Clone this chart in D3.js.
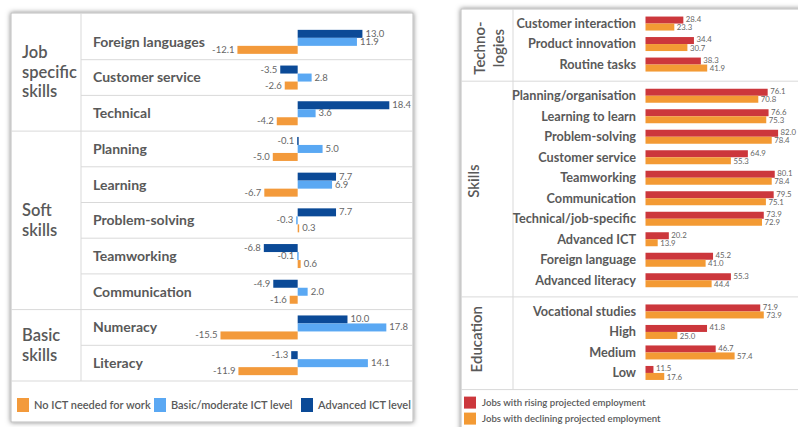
<!DOCTYPE html>
<html>
<head>
<meta charset="utf-8">
<script src="https://cdn.jsdelivr.net/npm/d3@7"></script>
<style>
  body { margin: 0; background: #fff; }
  svg text { font-family: Lato, "Open Sans", sans-serif; }
</style>
</head>
<body>
<svg id="chart" width="798" height="427"></svg>
<script>
// ---- Left panel: change in skill demand by ICT level (percentage points) ----
const ictCategories = ["Foreign languages", "Customer service", "Technical", "Planning", "Learning",
  "Problem-solving", "Teamworking", "Communication", "Numeracy", "Literacy"];
const ictGroupLabels = [["Job", "specific", "skills"], ["Soft", "skills"], ["Basic", "skills"]];
const ictGroupSizes = [3, 5, 2];
const advancedICT = [13.0, -3.5, 18.4, -0.1, 7.7, 7.7, -6.8, -4.9, 10.0, -1.3];
const basicICT = [11.9, 2.8, 3.6, 5.0, 6.9, -0.3, -0.1, 2.0, 17.8, 14.1];
const noICT = [-12.1, -2.6, -4.2, -5.0, -6.7, 0.3, 0.6, -1.6, -15.5, -11.9];
const ictSeriesNames = ["Advanced ICT level", "Basic/moderate ICT level", "No ICT needed for work"];

// ---- Right panel: share of jobs with rising / declining projected employment (%) ----
const trendCategories = ["Customer interaction", "Product innovation", "Routine tasks",
  "Planning/organisation", "Learning to learn", "Problem-solving", "Customer service", "Teamworking",
  "Communication", "Technical/job-specific", "Advanced ICT", "Foreign language", "Advanced literacy",
  "Vocational studies", "High", "Medium", "Low"];
const trendGroupLabels = [["Techno-", "logies"], ["Skills"], ["Education"]];
const trendGroupSizes = [3, 10, 4];
const risingJobs = [28.4, 34.4, 38.3, 76.1, 76.6, 82.0, 64.9, 80.1, 79.5, 73.9, 20.2, 45.2, 55.3, 71.9, 41.8, 46.7, 11.5];
const decliningJobs = [23.3, 30.7, 41.9, 70.8, 75.3, 78.4, 55.3, 78.4, 75.1, 72.9, 13.9, 41.0, 44.4, 73.9, 25.0, 57.4, 17.6];
const trendSeriesNames = ["Jobs with rising projected employment", "Jobs with declining projected employment"];

const TEXT = "#595959";
const VALUE_TEXT = "#666666";
const GRID = "#d9d9d9";
const BORDER = "#bdbdbd";
const ictColors = ["#0b4a97", "#5aa8f3", "#f39a3b"];
const trendColors = ["#cc373c", "#f39a34"];
const fmt = v => v.toFixed(1);

const svg = d3.select("#chart");
const defs = svg.append("defs");
const shadow = defs.append("filter").attr("id", "shadow")
  .attr("x", "-10%").attr("y", "-10%").attr("width", "120%").attr("height", "120%");
shadow.append("feDropShadow").attr("dx", 0).attr("dy", 0).attr("stdDeviation", 2.8)
  .attr("flood-color", "#000").attr("flood-opacity", 0.5);

// ================= Left panel =================
const L = { x0: 11, x1: 413, y0: 13, y1: 422, groupCol: 81, rowsTop: 24, rowsBottom: 381, labelX: 93 };
const left = svg.append("g");
left.append("rect").attr("x", L.x0).attr("y", L.y0).attr("width", L.x1 - L.x0).attr("height", L.y1 - L.y0)
  .attr("fill", "#fff").attr("stroke", BORDER).attr("filter", "url(#shadow)");

const yL = d3.scaleBand().domain(ictCategories).range([L.rowsTop, L.rowsBottom]);
const xL = d3.scaleLinear().domain([-16, 19]).range([218, 392.3]);
const innerL = d3.scaleBand().domain(d3.range(3)).range([-12, 12]);
const ictSeries = [advancedICT, basicICT, noICT];

// index of the first row in each group
const ictGroupStarts = d3.cumsum([0, ...ictGroupSizes]).slice(0, -1);

// row separators (group boundaries run across the group column too)
ictCategories.forEach((c, i) => {
  if (i === 0) return;
  const isGroupStart = ictGroupStarts.includes(i);
  left.append("line")
    .attr("x1", isGroupStart ? L.x0 : L.groupCol).attr("x2", L.x1)
    .attr("y1", yL(c)).attr("y2", yL(c))
    .attr("stroke", GRID).attr("stroke-width", 1);
});
left.append("line").attr("x1", L.x0).attr("x2", L.x1).attr("y1", L.rowsBottom).attr("y2", L.rowsBottom)
  .attr("stroke", GRID);
left.append("line").attr("x1", L.groupCol).attr("x2", L.groupCol).attr("y1", L.y0).attr("y2", L.rowsBottom)
  .attr("stroke", GRID);

// group labels
ictGroupLabels.forEach((lines, gi) => {
  const first = ictCategories[ictGroupStarts[gi]];
  const last = ictCategories[ictGroupStarts[gi] + ictGroupSizes[gi] - 1];
  const top = gi === 0 ? L.y0 : yL(first);
  const bottom = yL(last) + yL.bandwidth();
  const cy = (top + bottom) / 2;
  const lh = 19.5;
  const t = left.append("text").attr("x", 22).attr("fill", TEXT)
    .attr("font-size", 16.5).attr("font-weight", 600);
  lines.forEach((ln, k) => {
    t.append("tspan").attr("x", 22)
      .attr("y", cy + (k - (lines.length - 1) / 2) * lh)
      .attr("dy", "0.35em").text(ln);
  });
});

// category labels
left.selectAll("text.cat").data(ictCategories).join("text").attr("class", "cat")
  .attr("x", L.labelX).attr("y", d => yL(d) + yL.bandwidth() / 2).attr("dy", "0.35em")
  .attr("fill", TEXT).attr("font-size", 14).attr("font-weight", 700)
  .text(d => d);

// bars and value labels
ictSeries.forEach((vals, si) => {
  const rows = vals.map((v, i) => ({ v, c: ictCategories[i] }));
  const g = left.append("g");
  g.selectAll("rect").data(rows).join("rect")
    .attr("x", d => d.v < 0 ? xL(d.v) : xL(0))
    .attr("width", d => Math.max(1.5, Math.abs(xL(d.v) - xL(0))))
    .attr("y", d => yL(d.c) + yL.bandwidth() / 2 + innerL(si))
    .attr("height", innerL.bandwidth())
    .attr("fill", ictColors[si]);
  g.selectAll("text").data(rows).join("text")
    .attr("x", d => d.v < 0 ? xL(d.v) - 3 : xL(0) + Math.max(1.5, xL(d.v) - xL(0)) + 3)
    .attr("text-anchor", d => d.v < 0 ? "end" : "start")
    .attr("y", d => yL(d.c) + yL.bandwidth() / 2 + innerL(si) + innerL.bandwidth() / 2)
    .attr("dy", "0.32em")
    .attr("font-family", "'Liberation Serif', serif").attr("font-size", 9.5)
    .attr("fill", VALUE_TEXT)
    .text(d => fmt(d.v));
});

// legend (order: no ICT, basic, advanced)
const legL = [
  { name: ictSeriesNames[2], color: ictColors[2], x: 17 },
  { name: ictSeriesNames[1], color: ictColors[1], x: 154 },
  { name: ictSeriesNames[0], color: ictColors[0], x: 301 }
];
legL.forEach(d => {
  left.append("rect").attr("x", d.x).attr("y", 398).attr("width", 12).attr("height", 14).attr("fill", d.color);
  left.append("text").attr("x", d.x + 17).attr("y", 405).attr("dy", "0.35em")
    .attr("fill", TEXT).attr("font-size", 11).attr("font-weight", 600).text(d.name);
});

// ================= Right panel =================
const R = { x0: 461, x1: 806, y0: 9, y1: 440, groupCol: 513, labelX: 636, step: 20.5, padTop: 4.3, padBottom: 6.4 };
const right = svg.append("g");
right.append("rect").attr("x", R.x0).attr("y", R.y0).attr("width", R.x1 - R.x0).attr("height", R.y1 - R.y0)
  .attr("fill", "#fff").attr("stroke", BORDER).attr("filter", "url(#shadow)");

const xR = d3.scaleLinear().domain([7, 82]).range([645.5, 778.1]);
const trendGroupStarts = d3.cumsum([0, ...trendGroupSizes]).slice(0, -1);

// vertical extent and band scale of each group
let cursor = R.y0;
const trendGroups = trendGroupSizes.map((n, gi) => {
  const top = cursor;
  const bottom = top + R.padTop + R.padBottom + n * R.step;
  cursor = bottom;
  const cats = trendCategories.slice(trendGroupStarts[gi], trendGroupStarts[gi] + n);
  const band = d3.scaleBand().domain(cats).range([top + R.padTop, bottom - R.padBottom]);
  return { top, bottom, cats, band, labels: trendGroupLabels[gi] };
});
const rowCenter = {};
trendGroups.forEach(g => g.cats.forEach(c => { rowCenter[c] = g.band(c) + g.band.bandwidth() / 2; }));

// separators and group column
trendGroups.forEach(g => {
  right.append("line").attr("x1", R.x0).attr("x2", R.x1).attr("y1", g.bottom).attr("y2", g.bottom)
    .attr("stroke", GRID);
});
right.append("line").attr("x1", R.groupCol).attr("x2", R.groupCol)
  .attr("y1", R.y0).attr("y2", trendGroups[trendGroups.length - 1].bottom).attr("stroke", GRID);

// rotated group labels
const groupLabelX = [480, 474, 477];
const groupLabelShift = [3, -8, -4];
trendGroups.forEach((g, gi) => {
  const cy = (g.top + g.bottom) / 2 + groupLabelShift[gi];
  const t = right.append("text")
    .attr("transform", `translate(${groupLabelX[gi]},${cy}) rotate(-90)`)
    .attr("text-anchor", "middle").attr("fill", TEXT)
    .attr("font-size", 15).attr("font-weight", 600);
  g.labels.forEach((ln, k) => {
    t.append("tspan").attr("x", 0).attr("y", k * 19).attr("dy", "0.35em").text(ln);
  });
});

// category labels
right.selectAll("text.cat").data(trendCategories).join("text").attr("class", "cat")
  .attr("x", R.labelX).attr("y", d => rowCenter[d]).attr("dy", "0.35em")
  .attr("text-anchor", "end").attr("fill", TEXT)
  .attr("font-size", 12.7).attr("font-weight", 700).text(d => d);

// bars and values
const innerR = d3.scaleBand().domain([0, 1]).range([-7, 7]);
[risingJobs, decliningJobs].forEach((vals, si) => {
  const rows = vals.map((v, i) => ({ v, c: trendCategories[i] }));
  const g = right.append("g");
  g.selectAll("rect").data(rows).join("rect")
    .attr("x", xR(7)).attr("width", d => xR(d.v) - xR(7))
    .attr("y", d => rowCenter[d.c] + innerR(si)).attr("height", innerR.bandwidth())
    .attr("fill", trendColors[si]);
  g.selectAll("text").data(rows).join("text")
    .attr("x", d => xR(d.v) + 2.5)
    .attr("y", d => rowCenter[d.c] + innerR(si) + innerR.bandwidth() / 2 + (si === 0 ? -0.6 : 0.6))
    .attr("dy", "0.32em")
    .attr("font-family", "'Liberation Serif', serif").attr("font-size", 7.8)
    .attr("fill", VALUE_TEXT).text(d => fmt(d.v));
});

// legend
const legTop = trendGroups[trendGroups.length - 1].bottom;
trendSeriesNames.forEach((name, i) => {
  const y = legTop + 7 + i * 16;
  right.append("rect").attr("x", 464).attr("y", y).attr("width", 12).attr("height", 12).attr("fill", trendColors[i]);
  right.append("text").attr("x", 482).attr("y", y + 6).attr("dy", "0.35em")
    .attr("fill", TEXT).attr("font-size", 9.6).attr("font-weight", 600).text(name);
});
</script>
</body>
</html>
